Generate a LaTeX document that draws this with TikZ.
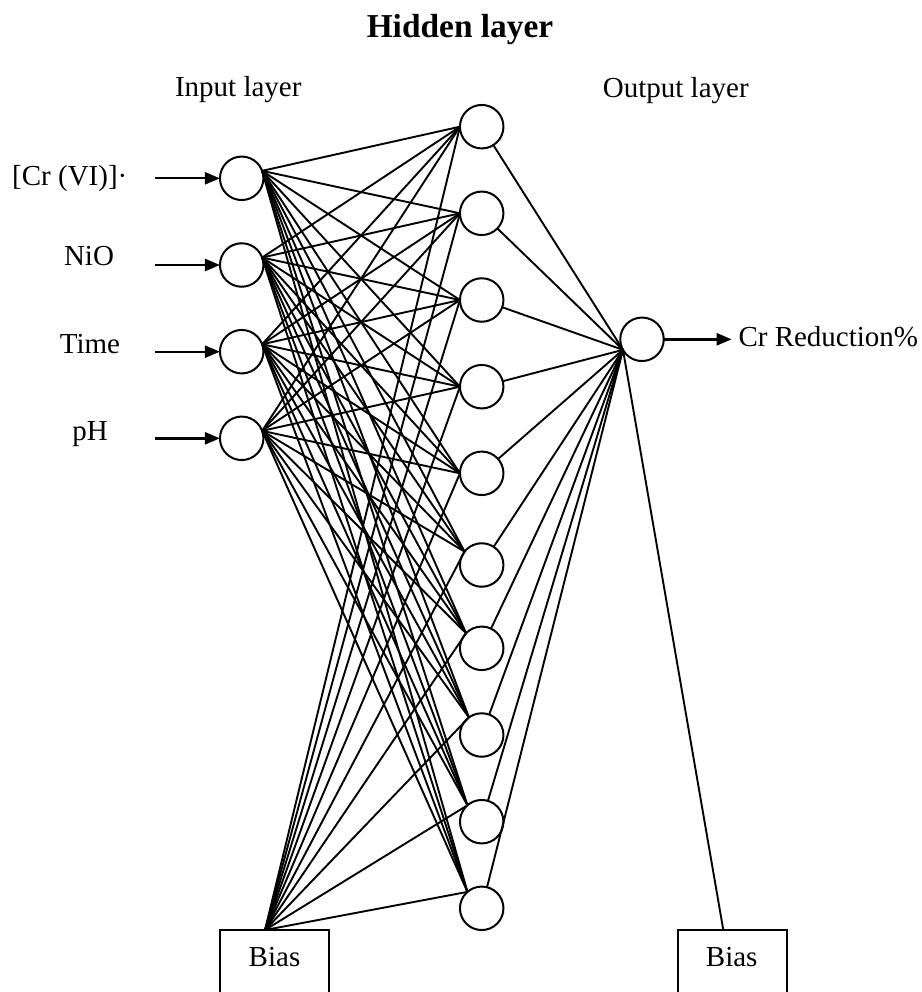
\documentclass[tikz,border=0pt]{standalone}
\usepackage{fontspec}
\setmainfont{Liberation Serif}
\usetikzlibrary{arrows.meta}
\begin{document}
\begin{tikzpicture}[x=1pt,y=-1pt,
  neuron/.style={circle,draw,line width=2pt,minimum size=43.5pt,inner sep=0pt,outer sep=0pt},
  conn/.style={line width=1.9pt},
  inarrow/.style={line width=2.4pt,-{Triangle[length=15pt,width=12pt]}},
  lbl/.style={font=\fontsize{29}{34}\selectfont,inner sep=0pt},
  title/.style={font=\fontsize{33.4}{38}\selectfont\bfseries,inner sep=0pt},
  biasbox/.style={draw,line width=2pt,minimum height=90pt,anchor=north west,inner sep=0pt,outer sep=0pt},
]
\useasboundingbox (0,0) rectangle (921,992);
\clip (0,0) rectangle (921,992);

% headings
\node[title,anchor=base] (th) at (460,37.3) {Hidden layer};
\node[lbl,anchor=base] (ti) at (238.3,96.7) {Input layer};
\node[lbl,anchor=base] (to) at (675.8,97.3) {Output layer};

% input nodes
\foreach \n/\y in {1/178.3,2/265,3/351.7,4/438.3}
  \node[neuron] (i\n) at (241.7,\y) {};

% hidden nodes
\foreach \n/\y in {1/126.7,2/213.3,3/300,4/386.7,5/473.3,6/565,7/648.3,8/735,9/821.7,10/908.3}
  \node[neuron] (h\n) at (481.7,\y) {};

% output node
\node[neuron] (o) at (642,339.3) {};

% convergence points on hidden nodes
\foreach \n/\a in {1/180,2/180,3/180,4/180,5/180,6/142,7/136,8/126,9/131,10/131}
  \coordinate (c\n) at (h\n.\a);
\coordinate (oc) at (o.209);

% bias boxes
\node[biasbox,minimum width=109.3pt] (bL) at (220,930) {};
\node[biasbox,minimum width=109pt] (bR) at (677.7,930) {};
\node[lbl,anchor=base] (bLt) at (274.5,966.7) {Bias};
\node[lbl,anchor=base] (bRt) at (731.7,966.7) {Bias};
\coordinate (bLp) at ([xshift=45pt]bL.north west);
\coordinate (bRp) at ([xshift=45.6pt]bR.north west);

% input labels and arrows
\node[lbl,anchor=base west] (l1) at (12,185.5) {[Cr (VI)]·};
\node[lbl,anchor=base] (l2) at (89,265) {NiO};
\node[lbl,anchor=base] (l3) at (90,353.3) {Time};
\node[lbl,anchor=base] (l4) at (90,440.7) {pH};
\foreach \n in {1,...,4}{
  \coordinate (a\n) at (155,0 |- i\n);
  \draw[inarrow] (a\n) -- (i\n.west);
}

% input -> hidden
\foreach \i in {1,...,4}
  \foreach \h in {1,...,10}
    \draw[conn] (i\i.20) -- (c\h);

% bias -> hidden
\foreach \h in {1,...,10}
  \draw[conn] (bLp) -- (c\h);

% hidden -> output
\foreach \h in {1,...,10}
  \draw[conn] (h\h) -- (oc);
\draw[conn] (oc) -- (bRp);

% output arrow and label
\node[lbl,anchor=base west] (out) at (738.3,346.7) {Cr Reduction\%};
\coordinate (oe) at (731.7,339.3);
\draw[inarrow] (o.east) -- (oe);
\end{tikzpicture}
\end{document}
